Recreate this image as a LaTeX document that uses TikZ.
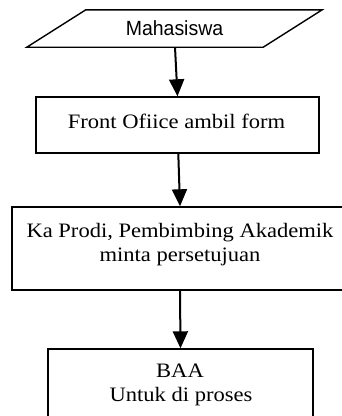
\documentclass[tikz,border=0pt]{standalone}
\usepackage{fontspec}
\newfontfamily\tnr[FakeStretch=1.1]{Liberation Serif}
\newfontfamily\arl[FakeStretch=0.95]{Liberation Sans}
\usetikzlibrary{arrows.meta}
\tikzset{
  frame/.style={draw=black, line width=1.4pt, inner sep=0pt, minimum width=#1},
  txt/.style={anchor=base, inner sep=0pt, font=\tnr\fontsize{20.5}{24}\selectfont},
  stxt/.style={anchor=base, inner sep=0pt, font=\arl\fontsize{20.5}{24}\selectfont},
  flow/.style={draw=black, line width=2pt, -{Triangle[width=15pt,length=17pt]}}
}
\begin{document}
\begin{tikzpicture}[x=1pt, y=-1pt]
  \useasboundingbox (0,0) rectangle (342,416);
  \clip (0,0) rectangle (342,416);
  \fill[white] (0,0) rectangle (342,416);
  % parallelogram (input)
  \node[inner sep=0pt, minimum width=236pt, minimum height=37pt] (mah) at (174.5,28.5) {};
  \draw[line width=1.4pt, line join=miter]
    ([xshift=29.5pt]mah.north west) -- ([xshift=29.5pt]mah.north east)
    -- ([xshift=-29.5pt]mah.south east) -- ([xshift=-29.5pt]mah.south west) -- cycle;
  \node[stxt] (tm) at (174.5,35) {Mahasiswa};
  % boxes
  \node[frame=283pt, minimum height=56pt] (b1) at (177.5,125) {};
  \node[frame=336pt, minimum height=83pt] (b2) at (180,248.5) {};
  \node[frame=265pt, minimum height=100pt] (b3) at (180.5,399) {};
  % texts
  \node[txt] (t1) at (176.5,128.3) {Front Ofiice ambil form};
  \node[txt] (t2a) at (180,237.7) {Ka Prodi, Pembimbing Akademik};
  \node[txt] (t2b) at (180,261) {minta persetujuan};
  \node[txt] (t3a) at (180,377.7) {BAA};
  \node[txt] (t3b) at (181,401.7) {Untuk di proses};
  % connectors
  \draw[flow] ([xshift=0.5pt]mah.south) -- (b1.north);
  \draw[flow] ([xshift=0.8pt]b1.south) -- (b2.north);
  \draw[flow] (b2.south) -- (b3.north);
\end{tikzpicture}
\end{document}
